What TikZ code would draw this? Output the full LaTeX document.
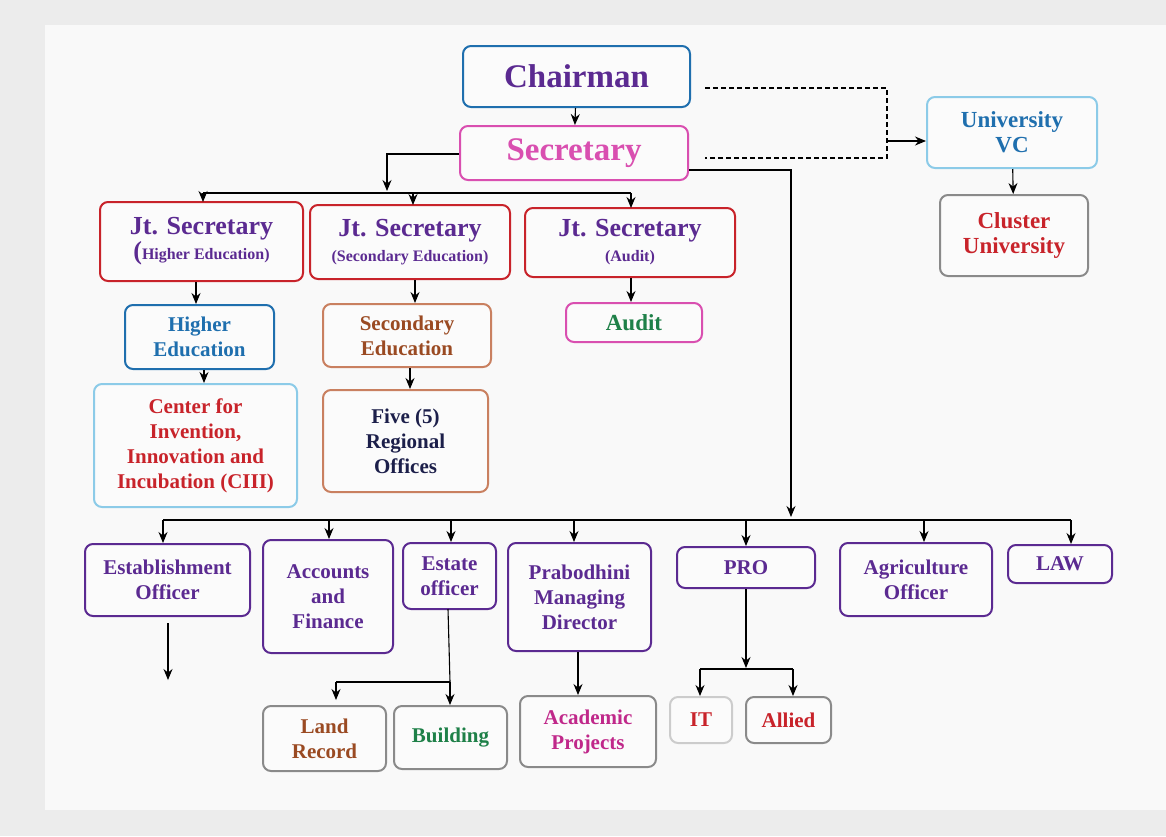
\documentclass[tikz,border=0pt]{standalone}
\usepackage{fontspec}
\setmainfont{Liberation Serif}
\usetikzlibrary{arrows.meta}
\definecolor{cpur}{HTML}{5B2A91}
\definecolor{cblue}{HTML}{1F6FAE}
\definecolor{clblue}{HTML}{8CCBE8}
\definecolor{cpink}{HTML}{D94FB0}
\definecolor{cred}{HTML}{C8232A}
\definecolor{cbrown}{HTML}{9A4A22}
\definecolor{cbrownb}{HTML}{C98060}
\definecolor{cgreen}{HTML}{1E8048}
\definecolor{cgray}{HTML}{8A8A8A}
\definecolor{cnavy}{HTML}{1C1F4A}
\definecolor{cmag}{HTML}{C0288A}
\begin{document}
\begin{tikzpicture}[x=1pt,y=-1pt,
 box/.style={draw,rounded corners=8pt,line width=2pt,align=center,font=\bfseries\fontsize{21}{25}\selectfont,inner sep=0pt,fill=white!97!gray},
 arr/.style={-{Stealth[length=11pt,width=9pt]},line width=1.1pt},
 ln/.style={line width=1.1pt}]
\fill[gray!15] (0,0) rectangle (1166,836);
\fill[white!95!gray] (45,25) rectangle (1166,810);
\useasboundingbox (0,0) rectangle (1166,836);
\newcommand{\bx}[7]{\node[box,draw=#5,text=#6,minimum width={#3-#1},minimum height={#4-#2}] (#7) at ({(#1+#3)/2},{(#2+#4)/2})}
\bx{463}{46}{690}{107}{cblue}{cpur}{ch}{\fontsize{33}{36}\selectfont Chairman};
\bx{460}{126}{688}{180}{cpink}{cpink}{sec}{\fontsize{33}{36}\selectfont Secretary};
\bx{927}{97}{1097}{168}{clblue}{cblue}{vc}{\fontsize{23}{29}\selectfont University\\\fontsize{23}{29}\selectfont VC};
\bx{940}{195}{1088}{276}{cgray}{cred}{cu}{\fontsize{23}{29}\selectfont Cluster\\\fontsize{23}{29}\selectfont University};
\bx{100}{202}{303}{281}{cred}{cpur}{j1}{\fontsize{26}{32}\selectfont Jt. Secretary\\\fontsize{26}{24}\selectfont(\fontsize{16}{18}\selectfont Higher Education)};
\bx{310}{205}{510}{279}{cred}{cpur}{j2}{\fontsize{26}{30}\selectfont Jt. Secretary\\\fontsize{16}{20}\selectfont (Secondary Education)};
\bx{525}{208}{735}{277}{cred}{cpur}{j3}{\fontsize{26}{30}\selectfont Jt. Secretary\\\fontsize{16}{20}\selectfont (Audit)};
\bx{125}{305}{274}{369}{cblue}{cblue}{he}{Higher\\Education};
\bx{94}{384}{297}{507}{clblue}{cred}{ciii}{Center for\\Invention,\\Innovation and\\Incubation (CIII)};
\bx{323}{304}{491}{367}{cbrownb}{cbrown}{se}{Secondary\\Education};
\bx{323}{390}{488}{492}{cbrownb}{cnavy}{five}{Five (5)\\Regional\\Offices};
\bx{566}{303}{702}{342}{cpink}{cgreen}{au}{\fontsize{23}{26}\selectfont Audit};
\bx{85}{544}{250}{616}{cpur}{cpur}{est}{Establishment\\Officer};
\bx{263}{540}{393}{653}{cpur}{cpur}{acc}{Accounts\\and\\Finance};
\bx{403}{543}{496}{609}{cpur}{cpur}{eo}{Estate\\officer};
\bx{508}{543}{651}{651}{cpur}{cpur}{pra}{Prabodhini\\Managing\\Director};
\bx{677}{547}{815}{588}{cpur}{cpur}{pro}{PRO};
\bx{840}{543}{992}{616}{cpur}{cpur}{agr}{Agriculture\\Officer};
\bx{1008}{545}{1112}{583}{cpur}{cpur}{law}{LAW};
\bx{263}{706}{386}{771}{cgray}{cbrown}{land}{Land\\Record};
\bx{394}{706}{507}{769}{cgray}{cgreen}{bld}{Building};
\bx{520}{696}{656}{767}{cgray}{cmag}{acp}{Academic\\Projects};
\bx{670}{697}{732}{743}{gray!40}{cred}{it}{IT};
\bx{746}{697}{831}{743}{cgray}{cred}{all}{Allied};
% top
\draw[arr] (ch) -- (sec);
\draw[ln,dash pattern=on 5pt off 3pt] (705,88) -| (887,158) -- (705,158);
\draw[arr] (887,141) -- (vc.west|-0,141);
\draw[arr] (vc) -- (cu);
\draw[arr] (sec.west|-0,154) -| (387,191);
\draw[ln] (203,193) -- (631,193);
\draw[arr] (203,193) -- (203,202);
\draw[arr] (413,193) -- (413,205);
\draw[arr] (631,193) -- (631,208);
\draw[arr] (sec.east|-0,170) -| (791,517);
\draw[ln] (163,520) -- (1071,520);
\foreach \x/\n in {163/est,329/acc,451/eo,574/pra,746/pro,924/agr,1071/law}
  \draw[arr] (\x,520) -- (\x,0|-\n.north);
\draw[arr] (196,0|-j1.south) -- (196,0|-he.north);
\draw[arr] (204,0|-he.south) -- (204,0|-ciii.north);
\draw[arr] (415,0|-j2.south) -- (415,0|-se.north);
\draw[arr] (410,0|-se.south) -- (410,0|-five.north);
\draw[arr] (631,0|-j3.south) -- (631,0|-au.north);
\coordinate (ee) at (168,680);
\draw[arr] (168,623) -- (ee);
\draw[ln] (448,609) -- (450,682);
\draw[arr] (450,682) -- (450,0|-bld.north);
\draw[ln] (336,682) -- (450,682);
\draw[arr] (336,682) -- (336,700);
\draw[arr] (578,0|-pra.south) -- (578,0|-acp.north);
\draw[arr] (746,0|-pro.south) -- (746,668);
\draw[ln] (700,669) -- (793,669);
\draw[arr] (700,669) -- (700,0|-it.north);
\draw[arr] (793,669) -- (793,0|-all.north);
\end{tikzpicture}
\end{document}
